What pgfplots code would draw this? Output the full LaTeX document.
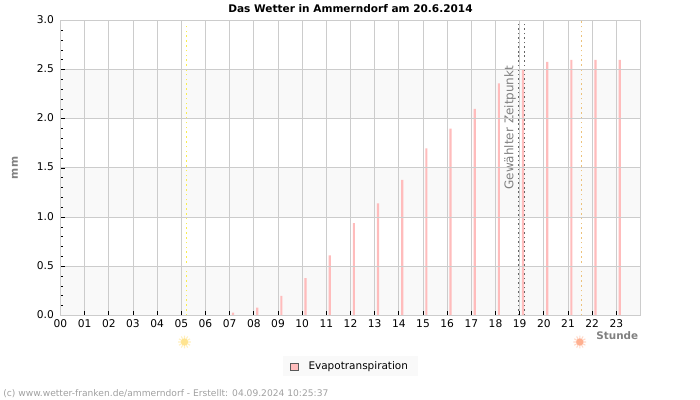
\documentclass[border=0pt]{standalone}
\usepackage{fontspec}
\setmainfont{DejaVu Sans}
\usepackage{pgfplots}
\pgfplotsset{compat=1.18}

\definecolor{gridgray}{HTML}{CCCCCC}
\definecolor{bandgray}{HTML}{F9F9F9}
\definecolor{evapink}{HTML}{FFBCBC}
\definecolor{sunrise}{HTML}{F8EC50}
\definecolor{sunset}{HTML}{ECC27C}
\definecolor{labelgray}{HTML}{808080}
\definecolor{footgray}{HTML}{A0A0A0}
\definecolor{risecore}{HTML}{FFE490}
\definecolor{riseray}{HTML}{FFF0C0}
\definecolor{setcore}{HTML}{FFB090}
\definecolor{setray}{HTML}{FFD8C8}

\begin{document}
\begin{tikzpicture}[x=0.75pt,y=0.75pt]
\useasboundingbox (0,0) rectangle (700,400);
\begin{axis}[
  at={(45.375pt,63.4pt)}, anchor=origin,
  scale only axis,
  width=435pt, height=221.25pt,
  xmin=0, xmax=24, ymin=0, ymax=3,
  clip=false,
  axis on top,
  axis line style={gridgray, line width=0.9pt},
  tick pos=left,
  tick align=inside,
  tick style={black, line width=0.6pt},
  major tick length=3.2pt,
  minor tick length=1.6pt,
  grid=major,
  major grid style={gridgray, line width=0.75pt},
  xtick={0,1,...,23},
  xticklabels={00,01,02,03,04,05,06,07,08,09,10,11,12,13,14,15,16,17,18,19,20,21,22,23},
  ytick={0,0.5,...,3},
  minor y tick num=4,
  /pgf/number format/assume math mode=true,
  yticklabel style={/pgf/number format/fixed, /pgf/number format/fixed zerofill, /pgf/number format/precision=1, font=\fontsize{8}{9}\selectfont, xshift=-1.5pt, yshift=0.6pt},
  xticklabel style={font=\fontsize{8}{9}\selectfont, yshift=0.2pt},
  title={\textbf{Das Wetter in Ammerndorf am 20.6.2014}},
  title style={font=\fontsize{7.9}{9}\selectfont, at={(axis description cs:0.5,1)}, anchor=south, yshift=-3.6pt},
  xlabel={\textbf{Stunde}},
  xlabel style={font=\fontsize{7.8}{9}\selectfont, text=labelgray, at={(axis description cs:1,0)}, anchor=north east, yshift=-8.5pt, xshift=1.8pt},
  ylabel={\textbf{mm}},
  ylabel style={font=\fontsize{8}{9}\selectfont, text=labelgray, at={(axis description cs:0,0.5)}, anchor=south, yshift=28.5pt},
  legend style={at={(axis description cs:0.5,0)}, anchor=north, yshift=-30.5pt, fill=bandgray, draw=none, font=\fontsize{7.85}{9}\selectfont, inner xsep=5.25pt, inner ysep=1.8pt},
  legend cell align=left,
]
% alternating background bands
\addplot[fill=bandgray, draw=none, forget plot] coordinates {(0,0) (24,0) (24,0.5) (0,0.5)} -- cycle;
\addplot[fill=bandgray, draw=none, forget plot] coordinates {(0,1) (24,1) (24,1.5) (0,1.5)} -- cycle;
\addplot[fill=bandgray, draw=none, forget plot] coordinates {(0,2) (24,2) (24,2.5) (0,2.5)} -- cycle;

% hourly evapotranspiration
\addplot[
  ybar, bar width=1.6pt, bar shift=0pt, fill=evapink, draw=none,
  legend image code/.code={\draw[fill=evapink, draw=black!65, line width=0.5pt] (-7pt,-2.6pt) rectangle (-1.6pt,2.6pt); \path (4.4pt,0pt);},
] coordinates {
  (7.14,0.03) (8.14,0.08) (9.14,0.20) (10.14,0.38) (11.14,0.61) (12.14,0.94)
  (13.14,1.14) (14.14,1.38) (15.14,1.70) (16.14,1.90) (17.14,2.10) (18.14,2.36)
  (19.14,2.50) (20.14,2.58) (21.14,2.60) (22.14,2.60) (23.14,2.60)
};
\addlegendentry{Evapotranspiration}

% sunrise, sunset and the selected time
\addplot[sunrise, line width=0.75pt, dash pattern=on 1.2pt off 2.4pt, forget plot] coordinates {(5.21,0) (5.21,2.97)};
\addplot[sunset, line width=0.75pt, dash pattern=on 1.2pt off 2.4pt, forget plot] coordinates {(21.57,0) (21.57,3)};
\addplot[black!60, line width=0.75pt, dash pattern=on 1.2pt off 2.2pt, forget plot] coordinates {(18.97,0) (18.97,3)};
\addplot[black!60, line width=0.75pt, dash pattern=on 1.2pt off 2.2pt, forget plot] coordinates {(19.20,0) (19.20,3)};
\node[rotate=90, text=labelgray, font=\fontsize{9}{10}\selectfont] at (axis cs:18.6,1.91) {Gewählter Zeitpunkt};

% sun symbols below the axis
\addplot[only marks, color=riseray, mark=asterisk, mark size=4.8pt, line width=0.8pt, forget plot] coordinates {(5.13,-0.27)};
\addplot[only marks, color=riseray, mark=asterisk, mark size=4.8pt, line width=0.8pt, mark options={rotate=90}, forget plot] coordinates {(5.13,-0.27)};
\addplot[only marks, color=risecore, mark=*, mark size=2.5pt, forget plot] coordinates {(5.13,-0.27)};
\addplot[only marks, color=setray, mark=asterisk, mark size=4.8pt, line width=0.8pt, forget plot] coordinates {(21.49,-0.27)};
\addplot[only marks, color=setray, mark=asterisk, mark size=4.8pt, line width=0.8pt, mark options={rotate=90}, forget plot] coordinates {(21.49,-0.27)};
\addplot[only marks, color=setcore, mark=*, mark size=2.5pt, forget plot] coordinates {(21.49,-0.27)};
\end{axis}
\node[anchor=base west, text=footgray, font=\fontsize{6.85}{8}\selectfont, inner sep=0pt] at (3,3.5) {(c) www.wetter-franken.de/ammerndorf - Erstellt: 04.09.2024 10:25:37};
\end{tikzpicture}
\end{document}
